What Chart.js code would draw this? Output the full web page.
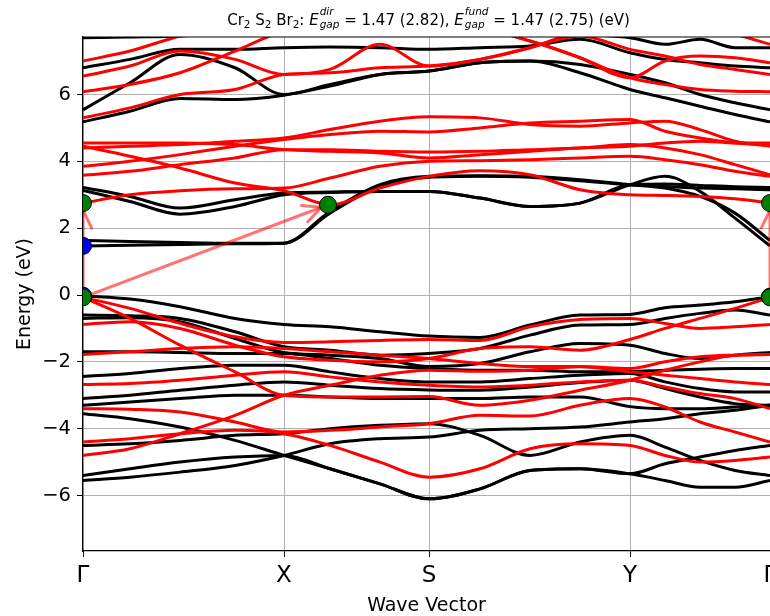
<!DOCTYPE html>
<html>
<head>
<meta charset="utf-8">
<script src="https://cdn.jsdelivr.net/npm/chart.js@4.4.0/dist/chart.umd.min.js"></script>
<style>
  html, body { margin: 0; padding: 0; background: #fff; overflow: hidden; }
  #caixa { width: 770px; height: 616px; }
</style>
</head>
<body>
<div id="caixa"><canvas id="grafico" width="770" height="616"></canvas></div>
<script>
// posições k dos pontos amostrados ao longo do caminho Γ-X-S-Y-Γ
const kPontos = [0, 0.47, 0.97, 1.52, 2.01, 2.47, 2.97, 3.46, 3.97, 4.47, 4.97, 5.47, 5.82, 6.17, 6.52, 6.87];
const kTicks = [0, 2.01, 3.46, 5.47, 6.87];
const kNomes = ['Γ', 'X', 'S', 'Y', 'Γ'];
const energiaTicks = [-6, -4, -2, 0, 2, 4, 6];

// spin up (preto)
const bandasUp = [
  [1.47, 1.49, 1.51, 1.53, 1.55, 2.5, 3.3, 3.55, 3.57, 3.55, 3.45, 3.3, 3.2, 2.95, 2.45, 1.63],
  [1.63, 1.6, 1.57, 1.55, 1.55, 2.45, 3.25, 3.52, 3.55, 3.52, 3.42, 3.3, 3.25, 3.2, 3.18, 3.15],
  [3.22, 2.95, 2.6, 2.85, 3.05, 3.08, 3.1, 3.1, 2.9, 2.65, 2.75, 3.3, 3.55, 3.1, 2.3, 1.47],
  [3.13, 2.8, 2.42, 2.65, 3.0, 3.07, 3.1, 3.1, 2.9, 2.65, 2.75, 3.3, 3.32, 3.28, 3.24, 3.22],
  [5.18, 5.5, 5.88, 5.85, 5.98, 6.25, 6.6, 6.7, 6.95, 7.0, 6.65, 6.15, 5.9, 5.65, 5.4, 5.18],
  [5.54, 6.35, 7.2, 6.8, 6.0, 6.3, 6.6, 6.7, 6.95, 7.0, 6.9, 6.6, 6.35, 6.0, 5.75, 5.54],
  [6.8, 7.05, 7.35, 7.35, 7.4, 7.42, 7.4, 7.35, 7.4, 7.45, 7.65, 7.25, 7.05, 6.95, 6.85, 6.8],
  [7.7, 7.72, 7.75, 7.9, 8.2, 8.3, 8.2, 8.0, 7.9, 7.85, 7.8, 7.7, 7.5, 7.65, 7.4, 7.4],
  [-0.02, -0.12, -0.35, -0.7, -0.88, -0.95, -1.1, -1.23, -1.27, -0.9, -0.6, -0.58, -0.38, -0.3, -0.2, -0.05],
  [-0.6, -0.62, -0.7, -1.1, -1.55, -1.65, -1.8, -1.75, -1.6, -1.2, -0.9, -0.88, -0.7, -0.55, -0.45, -0.6],
  [-0.7, -0.68, -0.8, -1.3, -1.72, -1.8, -1.9, -2.14, -2.05, -1.7, -1.45, -1.5, -1.75, -1.9, -1.8, -1.72],
  [-1.7, -1.7, -1.72, -1.75, -1.75, -1.9, -2.1, -2.2, -2.25, -2.25, -2.3, -2.29, -2.25, -2.22, -2.2, -2.2],
  [-2.44, -2.35, -2.2, -2.1, -2.1, -2.3, -2.5, -2.6, -2.6, -2.5, -2.4, -2.35, -2.6, -2.8, -2.9, -2.9],
  [-3.1, -3.0, -2.85, -2.7, -2.6, -2.7, -2.8, -2.84, -2.85, -2.75, -2.62, -2.55, -2.8, -3.05, -3.25, -3.3],
  [-3.3, -3.2, -3.1, -3.0, -3.0, -3.05, -3.1, -3.1, -3.1, -3.05, -3.05, -3.34, -3.4, -3.4, -3.35, -3.3],
  [-3.55, -3.7, -3.95, -4.35, -4.8, -5.2, -5.65, -6.1, -5.8, -5.25, -5.2, -5.35, -5.55, -5.75, -5.75, -5.55],
  [-5.55, -5.45, -5.3, -5.1, -4.8, -4.45, -4.3, -4.25, -4.05, -4.0, -3.95, -3.8, -3.7, -3.55, -3.45, -3.3],
  [-4.5, -4.45, -4.35, -4.2, -4.15, -4.0, -3.9, -3.85, -4.2, -4.8, -4.4, -4.2, -4.55, -4.95, -5.25, -5.4],
  [-5.4, -5.2, -5.0, -4.85, -4.8, -5.2, -5.65, -6.1, -5.8, -5.25, -5.2, -5.35, -5.05, -4.85, -4.65, -4.5]
];

// spin down (vermelho)
const bandasDown = [
  [4.45, 4.15, 3.8, 3.35, 3.12, 2.7, 3.2, 3.55, 3.72, 3.6, 3.15, 3.0, 2.98, 2.95, 2.88, 2.75],
  [2.75, 3.0, 3.12, 3.18, 3.2, 3.5, 3.85, 4.0, 4.02, 4.05, 4.1, 4.15, 4.05, 3.9, 3.7, 3.55],
  [3.58, 3.7, 3.9, 4.1, 4.35, 4.35, 4.3, 4.28, 4.3, 4.35, 4.4, 4.5, 4.4, 4.2, 3.9, 3.6],
  [3.85, 4.0, 4.2, 4.45, 4.65, 4.8, 4.9, 4.88, 5.0, 5.15, 5.2, 5.25, 4.9, 4.7, 4.55, 4.5],
  [4.4, 4.45, 4.5, 4.6, 4.7, 4.95, 5.2, 5.33, 5.3, 5.1, 5.05, 5.15, 5.2, 4.95, 4.6, 4.45],
  [4.55, 4.55, 4.55, 4.5, 4.35, 4.3, 4.25, 4.1, 4.2, 4.3, 4.4, 4.45, 4.55, 4.6, 4.55, 4.55],
  [5.3, 5.6, 6.0, 6.15, 6.6, 6.65, 6.8, 6.85, 7.05, 7.4, 7.75, 7.35, 7.15, 6.9, 6.75, 6.6],
  [6.08, 6.3, 6.65, 7.3, 7.9, 8.1, 8.1, 8.0, 7.95, 7.6, 7.1, 6.5, 6.3, 6.15, 6.1, 6.08],
  [6.55, 6.85, 7.3, 7.05, 6.6, 6.75, 7.5, 6.85, 7.05, 7.4, 7.9, 8.2, 8.2, 8.0, 7.8, 7.5],
  [7.0, 7.3, 7.75, 8.1, 8.1, 8.0, 7.9, 7.85, 7.95, 7.6, 7.1, 6.5, 7.0, 7.15, 7.1, 6.95],
  [-0.07, -0.4, -0.85, -1.25, -1.42, -1.4, -1.36, -1.33, -1.36, -0.95, -0.73, -0.7, -0.85, -1.0, -0.95, -0.88],
  [-0.07, -0.7, -1.5, -2.3, -3.0, -3.05, -3.05, -3.04, -3.3, -3.15, -2.85, -2.55, -2.25, -2.0, -1.8, -1.78],
  [-4.8, -4.6, -4.15, -3.6, -3.0, -2.7, -2.4, -2.25, -2.28, -2.25, -2.15, -2.3, -2.4, -2.5, -2.6, -2.68],
  [-0.88, -0.8, -1.0, -1.5, -1.85, -1.95, -2.0, -1.9, -1.6, -1.55, -1.65, -1.33, -1.0, -0.7, -0.4, -0.07],
  [-1.78, -1.7, -1.6, -1.55, -1.6, -1.7, -1.8, -1.9, -2.05, -2.14, -2.14, -2.2, -2.0, -1.85, -1.8, -1.78],
  [-2.68, -2.65, -2.55, -2.4, -2.3, -2.45, -2.6, -2.7, -2.75, -2.7, -2.6, -2.55, -2.75, -2.95, -3.1, -3.4],
  [-3.4, -3.42, -3.5, -3.8, -4.1, -4.05, -3.95, -3.85, -3.6, -3.62, -3.3, -3.1, -3.35, -3.8, -4.1, -4.4],
  [-4.4, -4.3, -4.15, -4.05, -4.15, -4.5, -5.0, -5.45, -5.2, -4.6, -4.45, -4.5, -4.8, -5.0, -4.95, -4.85]
];

// extremos das bandas (VBM / CBM) e setas do gap
const verdesK = [0, 0, 2.45, 6.87, 6.87];
const verdesE = [2.75, -0.07, 2.7, 2.75, -0.07];
const azuisK = [0, 0, 6.87];
const azuisE = [1.47, -0.02, -0.05];
const setas = [
  { de: [0, -0.07], para: [2.45, 2.7] },
  { de: [0, -0.07], para: [0, 2.75] },
  { de: [6.87, -0.07], para: [6.87, 2.75] }
];

function montarLinha(banda, cor) {
  return {
    data: banda.map(function (e, i) { return { x: kPontos[i], y: e }; }),
    borderColor: cor,
    borderWidth: 3,
    pointRadius: 0,
    fill: false,
    cubicInterpolationMode: 'monotone',
    order: cor === '#000000' ? 4 : 3
  };
}

var dados = [];
bandasUp.forEach(function (b) { dados.push(montarLinha(b, '#000000')); });
bandasDown.forEach(function (b) { dados.push(montarLinha(b, '#ff0000')); });
dados.push({
  label: 'azuis',
  type: 'scatter',
  data: azuisK.map(function (k, i) { return { x: k, y: azuisE[i] }; }),
  pointRadius: 8.5,
  pointBackgroundColor: '#0000ff',
  pointBorderColor: '#000000',
  pointBorderWidth: 1,
  order: 2
});
dados.push({
  label: 'verdes',
  type: 'scatter',
  data: verdesK.map(function (k, i) { return { x: k, y: verdesE[i] }; }),
  pointRadius: 8.5,
  pointBackgroundColor: '#008000',
  pointBorderColor: '#000000',
  pointBorderWidth: 1,
  order: 1
});

function desenharSeta(ctx, x0, y0, x1, y1) {
  var ang = Math.atan2(y1 - y0, x1 - x0);
  var encolhe = 7;
  var tx = x1 - Math.cos(ang) * encolhe;
  var ty = y1 - Math.sin(ang) * encolhe;
  ctx.beginPath();
  ctx.moveTo(x0, y0);
  ctx.lineTo(tx, ty);
  ctx.stroke();
  var abre = 0.45, tam = 20;
  ctx.beginPath();
  ctx.moveTo(tx - Math.cos(ang - abre) * tam, ty - Math.sin(ang - abre) * tam);
  ctx.lineTo(tx, ty);
  ctx.lineTo(tx - Math.cos(ang + abre) * tam, ty - Math.sin(ang + abre) * tam);
  ctx.stroke();
}

const pluginSetas = {
  id: 'setas',
  beforeDatasetDraw: function (chart, args) {
    if (chart.data.datasets[args.index].label !== 'azuis') return;
    var ctx = chart.ctx, a = chart.chartArea;
    var sx = chart.scales.x, sy = chart.scales.y;
    ctx.save();
    ctx.beginPath();
    ctx.rect(a.left, a.top, a.right - a.left, a.bottom - a.top);
    ctx.clip();
    ctx.strokeStyle = 'rgba(255, 0, 0, 0.55)';
    ctx.lineWidth = 3;
    ctx.lineCap = 'round';
    setas.forEach(function (s) {
      desenharSeta(ctx, sx.getPixelForValue(s.de[0]), sy.getPixelForValue(s.de[1]),
        sx.getPixelForValue(s.para[0]), sy.getPixelForValue(s.para[1]));
    });
    ctx.restore();
  }
};

function desenharTitulo(ctx, cx, base) {
  var normal = '15px "DejaVu Sans"';
  var pequeno = '10.5px "DejaVu Sans"';
  var italico = 'italic 15px "DejaVu Sans"';
  var italicoPeq = 'italic 10.5px "DejaVu Sans"';
  var partes = [
    { t: 'Cr', f: normal }, { t: '2', f: pequeno, dy: 3 },
    { t: ' S', f: normal }, { t: '2', f: pequeno, dy: 3 },
    { t: ' Br', f: normal }, { t: '2', f: pequeno, dy: 3 },
    { t: ': ', f: normal },
    { t: 'E', f: italico }, { sup: 'dir', sub: 'gap', f: italicoPeq },
    { t: ' = 1.47 (2.82), ', f: normal },
    { t: 'E', f: italico }, { sup: 'fund', sub: 'gap', f: italicoPeq },
    { t: ' = 1.47 (2.75) (eV)', f: normal }
  ];
  var total = 0;
  partes.forEach(function (p) {
    ctx.font = p.f;
    if (p.sup) {
      p.w = Math.max(ctx.measureText(p.sup).width, ctx.measureText(p.sub).width) + 1;
    } else {
      p.w = ctx.measureText(p.t).width;
    }
    total += p.w;
  });
  var x = cx - total / 2;
  ctx.fillStyle = '#000';
  ctx.textAlign = 'left';
  ctx.textBaseline = 'alphabetic';
  partes.forEach(function (p) {
    ctx.font = p.f;
    if (p.sup) {
      ctx.fillText(p.sup, x + 1, base - 10);
      ctx.fillText(p.sub, x + 1, base + 3);
    } else {
      ctx.fillText(p.t, x, base + (p.dy || 0));
    }
    x += p.w;
  });
}

const pluginTextos = {
  id: 'textos',
  afterDraw: function (chart) {
    var ctx = chart.ctx, a = chart.chartArea;
    ctx.save();
    ctx.strokeStyle = '#000';
    ctx.lineWidth = 1.2;
    ctx.beginPath();
    ctx.moveTo(a.left, a.top);
    ctx.lineTo(a.right, a.top);
    ctx.stroke();
    ctx.fillStyle = '#000';
    ctx.font = '19px "DejaVu Sans"';
    ctx.textAlign = 'center';
    ctx.textBaseline = 'alphabetic';
    ctx.fillText('Wave Vector', (a.left + a.right) / 2, 611);
    ctx.translate(30, (a.top + a.bottom) / 2);
    ctx.rotate(-Math.PI / 2);
    ctx.fillText('Energy (eV)', 0, 0);
    ctx.restore();
    ctx.save();
    desenharTitulo(ctx, (a.left + a.right) / 2 + 2, 25);
    ctx.restore();
  }
};

new Chart(document.getElementById('grafico'), {
  type: 'line',
  data: { datasets: dados },
  plugins: [pluginSetas, pluginTextos],
  options: {
    responsive: false,
    animation: false,
    events: [],
    layout: { autoPadding: false, padding: { left: 0, right: 0, top: 37, bottom: 0 } },
    plugins: { legend: { display: false }, tooltip: { enabled: false }, title: { display: false } },
    scales: {
      x: {
        type: 'linear',
        min: 0,
        max: 6.87,
        afterBuildTicks: function (s) { s.ticks = kTicks.map(function (v) { return { value: v }; }); },
        afterFit: function (s) { s.height = 65; s.paddingLeft = 0; s.paddingRight = 0; },
        ticks: {
          autoSkip: false,
          maxRotation: 0,
          padding: 5,
          color: '#000',
          font: { family: 'DejaVu Sans', size: 23 },
          callback: function (v, i) { return kNomes[i]; }
        },
        grid: { color: '#b0b0b0', lineWidth: 1, tickColor: '#000', tickLength: 6, tickWidth: 1 },
        border: { color: '#000', width: 1.2 }
      },
      y: {
        type: 'linear',
        min: -7.66,
        max: 7.72,
        afterBuildTicks: function (s) { s.ticks = energiaTicks.map(function (v) { return { value: v }; }); },
        afterFit: function (s) { s.width = 83; },
        ticks: {
          padding: 6,
          color: '#000',
          font: { family: 'DejaVu Sans', size: 19.5 },
          callback: function (v) { return v < 0 ? '\u2212' + Math.abs(v) : String(v); }
        },
        grid: { color: '#b0b0b0', lineWidth: 1, tickColor: '#000', tickLength: 6, tickWidth: 1 },
        border: { color: '#000', width: 1.2 }
      }
    }
  }
});
</script>
</body>
</html>
